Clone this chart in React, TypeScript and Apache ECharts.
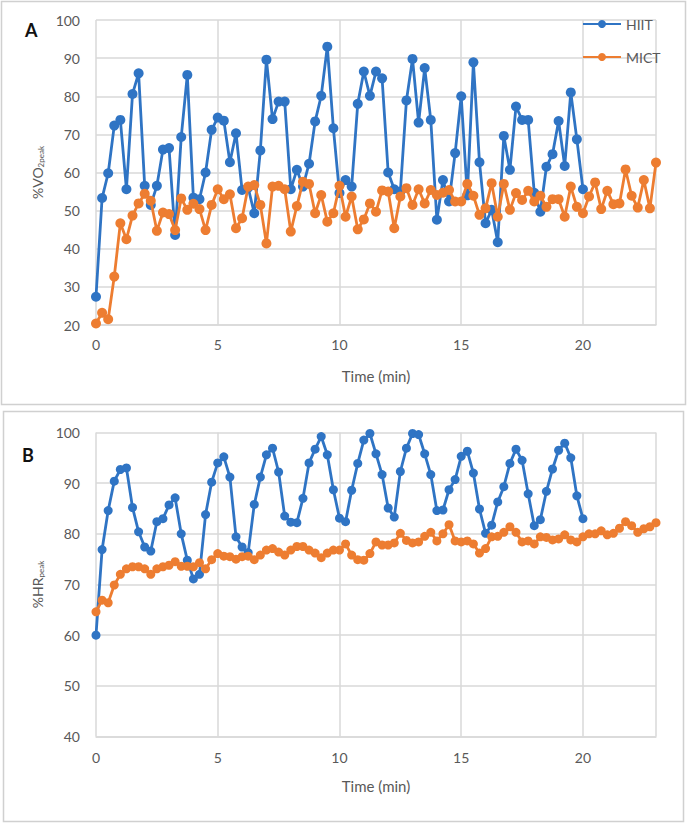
import React, { useEffect, useRef } from "react";
import * as echarts from "echarts";

// Sampling step of the recorded data (minutes)
const SAMPLE_STEP_MIN = 0.25;

// Panel A: %VO2peak
const hiitVO2 = [
  27.4, 53.3, 59.8, 72.3, 73.8, 55.6, 80.6, 86, 56.5, 51.5, 56.5, 66, 66.4, 43.6, 69.3, 85.6,
  53.4, 53, 60, 71.2, 74.4, 73.6, 62.7, 70.3, 55.4, 56, 49.3, 65.8, 89.6, 74, 78.6, 78.6,
  55.6, 60.7, 56.3, 62.3, 73.4, 80.1, 93, 71.6, 54.6, 58, 56.3, 78, 86.5, 80.1, 86.5, 84.7,
  60, 55.6, 55, 78.9, 89.8, 73.1, 87.4, 73.8, 47.6, 58, 52.4, 65.1, 80, 54, 88.9, 62.7,
  46.7, 50.2, 41.7, 69.6, 60.7, 77.3, 73.8, 73.8, 54.7, 49.7, 61.5, 64.8, 73.5, 61.7, 81, 68.7,
  55.6,
];
const mictVO2 = [
  20.4, 23.2, 21.5, 32.7, 46.7, 42.5, 48.7, 51.9, 54.4, 52.6, 44.7, 49.5, 49.1, 44.9, 53.2, 50.2,
  51.8, 50.4, 44.9, 51.5, 55.6, 53, 54.3, 45.4, 48, 56.3, 56.7, 51.5, 41.4, 56.3, 56.5, 55.6,
  44.5, 51.2, 57.6, 57, 49.3, 54.1, 47.1, 49.3, 56.5, 48.4, 53.7, 45.1, 47.7, 51.9, 49.7, 55.3,
  55, 45.4, 53.7, 55.9, 51.5, 55.6, 51.9, 55.4, 54.1, 54.7, 55.4, 52.4, 52.4, 57, 53.9, 48.9,
  50.6, 57.2, 48.4, 57, 50.2, 54.6, 52.8, 55.2, 52.4, 53.9, 51, 53, 53, 48.4, 56.3, 51,
  49.3, 53.7, 57.4, 50.4, 55.2, 51.7, 51.9, 60.8, 53.9, 50.8, 58, 50.6, 62.6,
];

// Panel B: %HRpeak
const hiitHR = [
  60, 76.9, 84.6, 90.4, 92.7, 93, 85.2, 80.4, 77.4, 76.6, 82.4, 83, 85.7, 87.1, 80, 74.8,
  71.1, 72, 83.8, 90.2, 94, 95.2, 91.2, 79.4, 77.4, 76.3, 85.8, 91.2, 95.6, 96.9, 92.2, 83.5,
  82.3, 82.2, 87, 94, 96.7, 99.2, 95.6, 88.7, 83.1, 82.4, 88.6, 93.9, 98.5, 99.8, 95.8, 91.7,
  85.1, 83.3, 92.3, 96.9, 99.8, 99.6, 95.8, 91.7, 84.6, 84.7, 88.7, 90.7, 95.3, 96.3, 92, 84.9,
  80.1, 81.7, 86.3, 89.3, 93.9, 96.7, 94.5, 87.9, 81.6, 82.8, 88.4, 92.8, 96.5, 97.9, 95, 87.5,
  83,
];
const mictHR = [
  64.6, 66.9, 66.4, 69.9, 72, 73.1, 73.5, 73.5, 73.1, 72, 73.1, 73.5, 73.8, 74.5, 73.6, 73.6,
  73.5, 74.3, 73.1, 74.9, 76.1, 75.6, 75.5, 75, 75.5, 75.6, 74.9, 75.8, 76.8, 77.1, 76.4, 75.8,
  76.8, 77.5, 77.5, 76.8, 76.2, 75.3, 76.2, 76.8, 76.8, 78, 75.8, 74.9, 74.8, 76.1, 78.4, 77.8,
  77.8, 78.2, 80.1, 78.7, 78.2, 78.4, 79.5, 80.3, 78.6, 80, 81.8, 78.6, 78.4, 78.6, 78, 76.2,
  77.1, 79.4, 79.5, 80.3, 81.4, 80.3, 78.4, 78.6, 78, 79.4, 79.3, 78.8, 79, 79.8, 78.8, 78.4,
  79.4, 80, 80, 80.6, 79.8, 80.1, 81.1, 82.4, 81.6, 80.3, 81, 81.4, 82.2,
];

const seriesNames = ["HIIT", "MICT"];
const xMin = 0;
const xMax = 23;
const xInterval = 5;
const vo2Range = [20, 100];
const hrRange = [40, 100];
const yInterval = 10;

const BLUE = "#2F74C4";
const ORANGE = "#ED7D31";
const LABEL = "#595959";
const GRIDC = "#d9d9d9";
const FONT = "Lato, 'Open Sans', sans-serif";

const toPoints = (arr: number[]) => arr.map((v, i) => [i * SAMPLE_STEP_MIN, v]);

export default function App() {
  const ref = useRef<HTMLDivElement>(null);
  useEffect(() => {
    document.body.style.margin = "0";
    if (!ref.current) return;
    const chart = echarts.init(ref.current, null, { renderer: "svg" });

    const xAxisBase = (gridIndex: number, labelMargin: number, nameGap: number) => ({
      type: "value" as const,
      gridIndex,
      min: xMin,
      max: xMax,
      interval: xInterval,
      name: "Time (min)",
      nameLocation: "middle" as const,
      nameGap,
      nameTextStyle: { color: LABEL, fontSize: 15, fontFamily: FONT },
      axisLine: { show: true, lineStyle: { color: GRIDC, width: 1.5 } },
      axisTick: { show: false },
      axisLabel: {
        color: LABEL,
        fontSize: 14,
        fontFamily: FONT,
        margin: labelMargin,
        showMaxLabel: false,
      },
      splitLine: { show: true, lineStyle: { color: GRIDC, width: 1.5 } },
    });

    const yAxisBase = (gridIndex: number, range: number[], name: string, nameGap: number) => ({
      type: "value" as const,
      gridIndex,
      min: range[0],
      max: range[1],
      interval: yInterval,
      name,
      nameLocation: "middle" as const,
      nameGap,
      nameTextStyle: {
        color: LABEL,
        fontSize: 14,
        fontFamily: FONT,
        rich: {
          sub: { fontSize: 8, color: LABEL, fontFamily: FONT, padding: [6, 0, 0, 0] },
        },
      },
      axisLine: { show: false },
      axisTick: { show: false },
      axisLabel: { color: LABEL, fontSize: 14, fontFamily: FONT, margin: 16 },
      splitLine: { show: true, lineStyle: { color: GRIDC, width: 1.5 } },
    });

    const lineSeries = (name: string, color: string, data: number[], idx: number, size: number) => ({
      type: "line" as const,
      name,
      xAxisIndex: idx,
      yAxisIndex: idx,
      data: toPoints(data),
      symbol: "circle",
      symbolSize: size,
      showSymbol: true,
      lineStyle: { color, width: 2.8 },
      itemStyle: { color },
      z: name === "HIIT" ? 2 : 3,
    });

    chart.setOption({
      animation: false,
      backgroundColor: "#ffffff",
      grid: [
        { left: 96, right: 31, top: 20, height: 305 },
        { left: 96, right: 31, top: 432.5, height: 304 },
      ],
      legend: {
        data: seriesNames,
        orient: "vertical",
        left: 577,
        top: 12,
        itemWidth: 38,
        itemHeight: 10,
        itemGap: 19,
        textStyle: { color: LABEL, fontSize: 14, fontFamily: FONT },
      },
      xAxis: [xAxisBase(0, 12, 43), xAxisBase(1, 14, 42)],
      yAxis: [
        yAxisBase(0, vo2Range, "%VO{sub|2peak}", 49),
        yAxisBase(1, hrRange, "%HR{sub|peak}", 51),
      ],
      series: [
        lineSeries("HIIT", BLUE, hiitVO2, 0, 10),
        lineSeries("MICT", ORANGE, mictVO2, 0, 10),
        lineSeries("HIIT", BLUE, hiitHR, 1, 9),
        lineSeries("MICT", ORANGE, mictHR, 1, 9),
      ],
      graphic: [
        {
          type: "rect",
          shape: { x: 1.5, y: 1.5, width: 684, height: 403 },
          style: { fill: "none", stroke: "#d0d0d0", lineWidth: 1.5 },
          silent: true,
        },
        {
          type: "rect",
          shape: { x: 3.5, y: 411.5, width: 680, height: 410 },
          style: { fill: "none", stroke: "#d0d0d0", lineWidth: 1.5 },
          silent: true,
        },
        {
          type: "text",
          left: 25,
          top: 21,
          style: { text: "A", fontSize: 18, fontWeight: "bold", fill: "#111", fontFamily: FONT },
        },
        {
          type: "text",
          left: 22,
          top: 446,
          style: { text: "B", fontSize: 18, fontWeight: "bold", fill: "#111", fontFamily: FONT },
        },
      ],
    });
    return () => chart.dispose();
  }, []);
  return <div ref={ref} style={{ width: 687, height: 824 }} />;
}
